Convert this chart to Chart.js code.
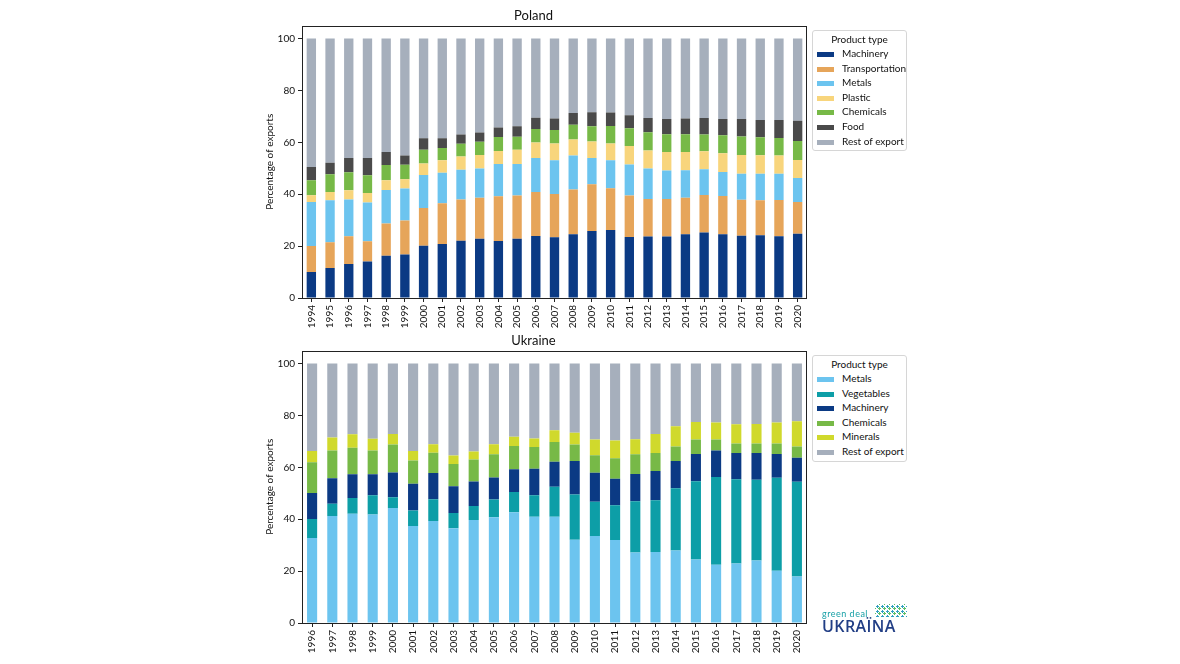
<!DOCTYPE html>
<html>
<head>
<meta charset="utf-8">
<script src="https://cdn.jsdelivr.net/npm/chart.js@4.4.1/dist/chart.umd.min.js"></script>
<style>
body { margin: 0; width: 1180px; height: 664px; background: #fff; position: relative; overflow: hidden; font-family: Lato, "Noto Sans", sans-serif; color: #111; }
canvas { position: absolute; left: 260px; }
.legend { position: absolute; left: 812px; width: 90px; background: #fff; border: 1px solid #d6d6d6; border-radius: 3px; padding: 2px 0 2px 3px; font-size: 10px; z-index: 2; }
.legend .ttl { height: 13px; line-height: 13px; text-align: center; padding-right: 3px; }
.legend .row { height: 14.6px; line-height: 14.6px; white-space: nowrap; }
.legend .sw { display: inline-block; width: 15px; height: 3px; margin: 0 8px 0 1px; vertical-align: middle; border: 1px solid; }
.logo { position: absolute; left: 822px; top: 600px; width: 90px; height: 36px; }
.logo .gd { position: absolute; left: 0; top: 9px; font-size: 9px; line-height: 10px; color: #17a0a6; letter-spacing: 0.5px; }
.logo .dots { position: absolute; left: 53px; top: 4px; width: 32px; height: 13px;
  background-image: radial-gradient(circle, #2f9fc0 1px, transparent 1.4px), radial-gradient(circle, #5bbf6a 1px, transparent 1.4px);
  background-size: 5px 5px, 5px 5px; background-position: 0 0, 2px 2px; }
.logo .uk { position: absolute; left: 0; top: 18px; font-size: 16px; line-height: 17px; font-weight: 600; font-family: "Open Sans", sans-serif; color: #213e85; letter-spacing: 0.4px; }
</style>
</head>
<body>
<canvas id="polandChart" width="590" height="340" style="top:0px"></canvas>
<canvas id="ukraineChart" width="590" height="339" style="top:325px"></canvas>
<div class="legend" id="polandLegend" style="top:30px"></div>
<div class="legend" id="ukraineLegend" style="top:355px"></div>
<div class="logo"><span class="gd">green deal</span><span class="dots"></span><span class="uk">UKRAÏNA</span></div>
<script>
// Poland, share of exports by product type (%)
var polandYears = ['1994','1995','1996','1997','1998','1999','2000','2001','2002','2003','2004','2005','2006','2007','2008','2009','2010','2011','2012','2013','2014','2015','2016','2017','2018','2019','2020'];
var plMachinery      = [10.0,11.6,13.1,14.1,16.3,16.8,20.1,20.8,22.1,22.8,22.0,22.8,23.9,23.4,24.6,25.8,26.2,23.5,23.7,23.7,24.6,25.2,24.6,24.0,24.2,23.8,24.8];
var plTransportation = [10.0, 9.9,10.7, 7.8,12.4,13.1,14.6,15.7,15.9,15.8,17.2,16.7,17.0,16.7,17.2,18.0,16.1,16.0,14.5,14.5,14.0,14.5,14.7,13.9,13.5,14.0,12.2];
var plMetals         = [17.0,16.2,14.2,14.9,12.9,12.3,12.7,11.8,11.4,11.3,12.5,12.2,13.1,13.0,13.1,10.2,10.8,12.0,11.7,10.9,10.6, 9.9, 9.3,10.0,10.2,10.1, 9.3];
var plPlastic        = [ 2.6, 3.2, 3.5, 3.7, 3.8, 3.6, 4.4, 4.8, 5.1, 5.2, 5.0, 5.4, 5.9, 6.5, 6.2, 6.3, 6.5, 7.1, 7.0, 7.2, 7.1, 7.0, 7.2, 7.2, 7.1, 7.0, 6.9];
var plChemicals      = [ 5.8, 6.8, 7.0, 6.8, 5.9, 5.6, 5.3, 4.7, 5.0, 5.1, 5.4, 5.1, 5.2, 5.2, 5.7, 5.9, 6.7, 6.8, 7.0, 6.8, 6.8, 6.4, 6.9, 7.2, 7.0, 6.8, 7.3];
var plFood           = [ 5.1, 4.4, 5.5, 6.7, 5.0, 3.5, 4.5, 3.8, 3.5, 3.6, 3.6, 4.0, 4.4, 4.4, 4.5, 5.4, 5.2, 5.0, 5.5, 5.9, 6.1, 6.4, 6.3, 6.7, 6.6, 6.9, 7.8];
var plRest           = [49.5,47.9,46.0,46.0,43.7,45.1,38.4,38.4,37.0,36.2,34.3,33.8,30.5,30.8,28.7,28.4,28.5,29.6,30.6,31.0,30.8,30.6,31.0,31.0,31.4,31.4,31.7];

// Ukraine, share of exports by product type (%)
var ukraineYears = ['1996','1997','1998','1999','2000','2001','2002','2003','2004','2005','2006','2007','2008','2009','2010','2011','2012','2013','2014','2015','2016','2017','2018','2019','2020'];
var uaMetals     = [32.8,41.2,42.1,41.8,44.3,37.4,39.3,36.5,39.7,40.8,42.7,41.0,41.0,32.1,33.5,32.0,27.2,27.4,27.9,24.5,22.5,22.9,24.1,20.1,17.9];
var uaVegetables = [ 7.3, 4.8, 6.1, 7.4, 4.2, 6.0, 8.4, 5.9, 5.4, 6.8, 7.8, 8.2,11.5,17.4,13.2,13.4,19.7,19.9,24.0,30.1,33.8,32.5,31.1,35.9,36.5];
var uaMachinery  = [10.0, 9.8, 9.1, 8.1, 9.5,10.3,10.1,10.3, 9.4, 8.5, 8.8,10.3, 9.7,12.9,11.2,10.2,10.5,11.3,10.5,10.5,10.2,10.1,10.3, 9.1, 9.3];
var uaChemicals  = [11.9,10.7,10.3, 9.2,10.8, 8.9, 7.8, 8.6, 8.5, 8.9, 8.9, 8.3, 7.6, 6.4, 6.8, 7.9, 7.6, 6.9, 5.6, 5.6, 4.2, 3.7, 3.7, 4.1, 4.3];
var uaMinerals   = [ 4.3, 5.0, 5.2, 4.5, 4.1, 3.7, 3.3, 3.3, 3.1, 3.9, 3.6, 3.3, 4.5, 4.5, 6.0, 6.8, 5.8, 7.4, 7.8, 6.8, 6.6, 7.4, 7.5, 8.1, 9.8];
var uaRest       = [33.7,28.5,27.2,29.0,27.1,33.7,31.1,35.4,33.9,31.1,28.2,28.9,25.7,26.7,29.3,29.7,29.2,27.1,24.2,22.5,22.7,23.4,23.3,22.7,22.2];

var yTicks = [0, 20, 40, 60, 80, 100];

Chart.defaults.font.family = 'Lato, "Noto Sans", sans-serif';
Chart.defaults.font.size = 10;
Chart.defaults.color = '#111';

// Draw the full box round the plot, like matplotlib spines
var framePlugin = {
    id: 'frame',
    afterDatasetsDraw: function(chart) {
        var a = chart.chartArea;
        var ctx = chart.ctx;
        ctx.save();
        ctx.strokeStyle = '#222';
        ctx.lineWidth = 1;
        ctx.strokeRect(Math.round(a.left) + 0.5, Math.round(a.top) + 0.5, Math.round(a.right - a.left) - 1, Math.round(a.bottom - a.top));
        ctx.restore();
    }
};

function makeDataset(label, data, color) {
    return {
        label: label,
        data: data,
        backgroundColor: color,
        borderWidth: 0,
        barPercentage: 0.5,
        categoryPercentage: 1.0
    };
}

function makeChart(canvasId, title, labels, datasets, xHeight) {
    var ctx = document.getElementById(canvasId).getContext('2d');
    return new Chart(ctx, {
        type: 'bar',
        data: { labels: labels, datasets: datasets },
        plugins: [framePlugin],
        options: {
            responsive: false,
            animation: false,
            layout: { padding: { left: 0, right: 43, top: 0, bottom: 0 } },
            scales: {
                x: {
                    stacked: true,
                    offset: true,
                    border: { display: false },
                    grid: { display: true, offset: false, drawOnChartArea: false, drawTicks: true, tickLength: 4, color: '#222' },
                    ticks: { autoSkip: false, minRotation: 90, maxRotation: 90, padding: 3, color: '#111' },
                    afterFit: function(scale) { scale.height = xHeight; }
                },
                y: {
                    stacked: true,
                    min: 0,
                    max: 105,
                    border: { display: false },
                    grid: { display: true, drawOnChartArea: false, drawTicks: true, tickLength: 4, color: '#222' },
                    ticks: { stepSize: 20, includeBounds: false, padding: 3, color: '#111' },
                    afterBuildTicks: function(scale) {
                        scale.ticks = yTicks.map(function(v) { return { value: v }; });
                    },
                    title: { display: true, text: 'Percentage of exports', font: { size: 10 }, padding: { top: 4, bottom: 2 } },
                    afterFit: function(scale) { scale.width = 42; }
                }
            },
            plugins: {
                legend: { display: false },
                tooltip: { enabled: false },
                title: {
                    display: true,
                    text: title,
                    font: { size: 13, weight: 'normal' },
                    color: '#111',
                    padding: { top: 8, bottom: 2 }
                }
            }
        }
    });
}

// Legend box built from the chart's own datasets
function buildLegend(elId, chart) {
    var html = '<div class="ttl">Product type</div>';
    chart.data.datasets.forEach(function(ds) {
        html += '<div class="row"><span class="sw" style="background:' + ds.backgroundColor + ';border-color:' + ds.backgroundColor + '"></span>' + ds.label + '</div>';
    });
    document.getElementById(elId).innerHTML = html;
}

var cNavy = '#0b3a84';
var cOrange = '#e6a55a';
var cLightBlue = '#6cc4ef';
var cYellow = '#f8d57c';
var cGreen = '#77b947';
var cDark = '#4a4a4a';
var cGrey = '#a6afbc';
var cTeal = '#0d9ea7';
var cLime = '#d0d92c';

var polandChart = makeChart('polandChart', 'Poland', polandYears, [
    makeDataset('Machinery', plMachinery, cNavy),
    makeDataset('Transportation', plTransportation, cOrange),
    makeDataset('Metals', plMetals, cLightBlue),
    makeDataset('Plastic', plPlastic, cYellow),
    makeDataset('Chemicals', plChemicals, cGreen),
    makeDataset('Food', plFood, cDark),
    makeDataset('Rest of export', plRest, cGrey)
], 42);

var ukraineChart = makeChart('ukraineChart', 'Ukraine', ukraineYears, [
    makeDataset('Metals', uaMetals, cLightBlue),
    makeDataset('Vegetables', uaVegetables, cTeal),
    makeDataset('Machinery', uaMachinery, cNavy),
    makeDataset('Chemicals', uaChemicals, cGreen),
    makeDataset('Minerals', uaMinerals, cLime),
    makeDataset('Rest of export', uaRest, cGrey)
], 41);

buildLegend('polandLegend', polandChart);
buildLegend('ukraineLegend', ukraineChart);
</script>
</body>
</html>
